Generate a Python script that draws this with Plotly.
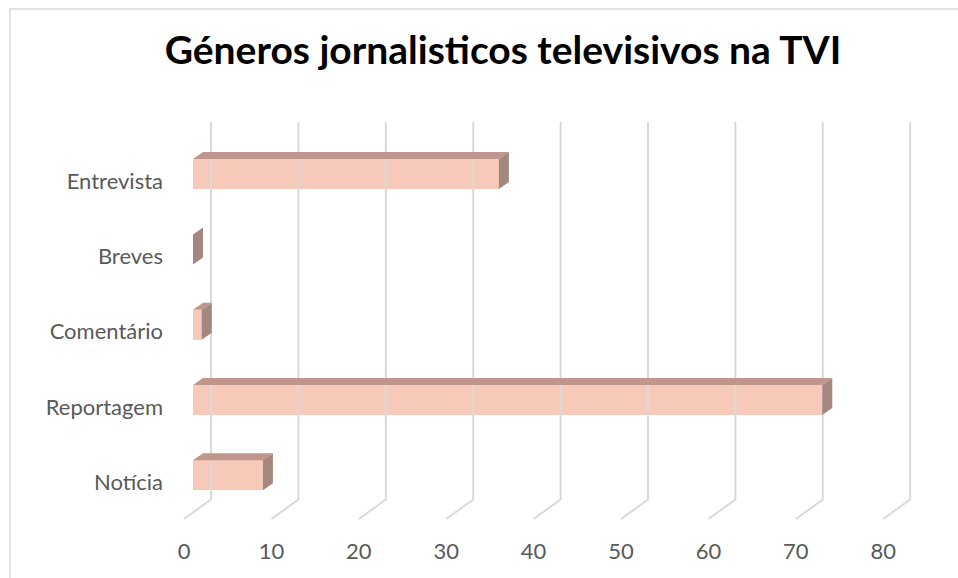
import plotly.graph_objects as go

# ---- data ----
categories = ["Notícia", "Reportagem", "Comentário", "Breves", "Entrevista"]
values = [8, 72, 1, 0, 35]
x_ticks = [0, 10, 20, 30, 40, 50, 60, 70, 80]
title_text = "Géneros jornalisticos televisivos na TVI"

# ---- geometry (pixels) ----
W, H = 958, 578
ML, MB = 170, 42
PLOT_W, PLOT_H = W - ML, H - MB
PX_PER_UNIT = 8.74          # horizontal pixels per value unit
PX_PER_CAT = 75.3           # vertical pixels between categories
FRONT0_PX = 193             # x pixel of value 0 on the bar front plane
LABEL0_PX = 184             # x pixel of value 0 on the floor front edge
CAT0_PX = 475.3             # y pixel of first category centre (front face)
LABEL_DY_PX = 7             # category labels sit a bit lower
BAR_H_PX = 30
DEPTH_DX_PX, DEPTH_DY_PX = 10, 7
GRID_BACK_DX_PX = 18
GRID_FRONT_DX_PX = -9
GRID_TOP_PX, GRID_BACK_FLOOR_PX, GRID_FRONT_FLOOR_PX = 122, 499.5, 519

def xr(zero_px):
    return [(ML - zero_px) / PX_PER_UNIT, (W - zero_px) / PX_PER_UNIT]

def yval(px):
    return (CAT0_PX - px) / PX_PER_CAT

ddx = DEPTH_DX_PX / PX_PER_UNIT
ddy = DEPTH_DY_PX / PX_PER_CAT
bh = BAR_H_PX / PX_PER_CAT
pos = list(range(len(categories)))

FRONT = "#F7C9B8"
TOP = "#BF968C"
SIDE = "#A4887F"
GRID = "#D9D9D9"
TXT = "#595959"

fig = go.Figure()

# gridlines (back wall + floor diagonals)
gx, gy = [], []
bdx = GRID_BACK_DX_PX / PX_PER_UNIT
fdx = GRID_FRONT_DX_PX / PX_PER_UNIT
for v in x_ticks:
    gx += [v + bdx, v + bdx, v + fdx, None]
    gy += [yval(GRID_TOP_PX), yval(GRID_BACK_FLOOR_PX), yval(GRID_FRONT_FLOOR_PX), None]
fig.add_trace(go.Scatter(x=gx, y=gy, mode="lines", line=dict(color=GRID, width=2),
                         hoverinfo="skip", showlegend=False))

# bar front faces
fig.add_trace(go.Bar(x=values, y=pos, orientation="h", width=bh, base=0,
                     marker=dict(color=FRONT, line=dict(width=0)), showlegend=False))

# top and side faces
tx, ty, sx, sy = [], [], [], []
for p, v in zip(pos, values):
    top = p + bh / 2
    bot = p - bh / 2
    tx += [0, v, v + ddx, ddx, 0, None]
    ty += [top, top, top + ddy, top + ddy, top, None]
    sx += [v, v + ddx, v + ddx, v, v, None]
    sy += [bot, bot + ddy, top + ddy, top, bot, None]
fig.add_trace(go.Scatter(x=tx, y=ty, mode="lines", fill="toself", fillcolor=TOP,
                         line=dict(width=0, color=TOP), hoverinfo="skip", showlegend=False))
fig.add_trace(go.Scatter(x=sx, y=sy, mode="lines", fill="toself", fillcolor=SIDE,
                         line=dict(width=0, color=SIDE), hoverinfo="skip", showlegend=False))

# invisible traces to activate label axes
fig.add_trace(go.Scatter(x=[x_ticks[0]], y=[0], xaxis="x2", yaxis="y", mode="markers",
                         marker=dict(opacity=0), hoverinfo="skip", showlegend=False))
fig.add_trace(go.Scatter(x=[0], y=[0], xaxis="x", yaxis="y2", mode="markers",
                         marker=dict(opacity=0), hoverinfo="skip", showlegend=False))

lab_shift = LABEL_DY_PX / PX_PER_CAT
yr = [yval(PLOT_H), yval(0)]

fig.update_layout(
    width=W, height=H,
    margin=dict(l=ML, r=0, t=0, b=MB),
    paper_bgcolor="white", plot_bgcolor="rgba(0,0,0,0)",
    font=dict(family="Lato", color=TXT, size=22),
    title=dict(text=title_text, x=0.525, xanchor="center", y=1 - 50 / H, yanchor="middle",
               font=dict(family="Lato", size=39, color="#000000", weight="bold")),
    xaxis=dict(range=xr(FRONT0_PX), showgrid=False, zeroline=False, showticklabels=False,
               showline=False, fixedrange=True),
    xaxis2=dict(range=xr(LABEL0_PX), overlaying="x", anchor="y", side="bottom",
                tickvals=x_ticks, showgrid=False, zeroline=False, showline=False,
                ticks="", tickfont=dict(size=22, color=TXT)),
    yaxis=dict(range=yr, showgrid=False, zeroline=False, showticklabels=False, showline=False),
    yaxis2=dict(range=[yr[0] + lab_shift, yr[1] + lab_shift], overlaying="y", anchor="x",
                side="left", tickvals=pos, ticktext=categories, showgrid=False,
                zeroline=False, showline=False, ticks="", ticklabelstandoff=6,
                tickfont=dict(size=22, color=TXT)),
    bargap=0,
)

# outer chart border (left and top edges visible)
fig.add_shape(type="path", xref="paper", yref="paper",
              path="M {a},{b} L {a},{c} L {d},{c}".format(
                  a=(10 - ML) / PLOT_W, b=(PLOT_H - H) / PLOT_H,
                  c=1 + (0 - 9) / PLOT_H * -1 - 2 * 9 / PLOT_H, d=1.2),
              line=dict(color=GRID, width=1.5), layer="below")

fig.write_html("out.html")
